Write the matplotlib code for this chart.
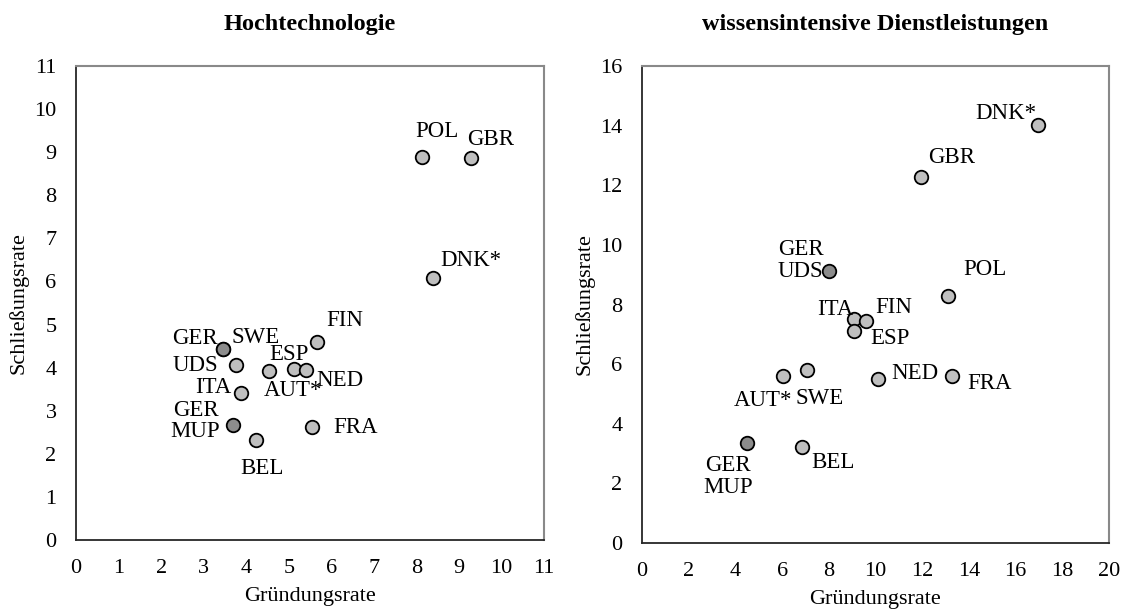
import matplotlib
matplotlib.use("Agg")
import matplotlib.pyplot as plt

plt.rcParams['font.family'] = ['Liberation Serif', 'DejaVu Serif']

# Hochtechnologie
ht_names = ['SWE', 'GER', 'UDS', 'AUT*', 'ESP', 'NED', 'FIN', 'ITA', 'GER\nMUP', 'BEL', 'FRA', 'POL', 'GBR', 'DNK*']
ht_x = [3.45, 3.45, 3.76, 4.54, 5.13, 5.41, 5.67, 3.88, 3.70, 4.23, 5.55, 8.14, 9.29, 8.40]
ht_y = [4.43, 4.43, 4.06, 3.92, 3.97, 3.94, 4.59, 3.41, 2.67, 2.32, 2.62, 8.89, 8.87, 6.08]
ht_dark = [False, True, False, False, False, False, False, False, True, False, False, False, False, False]
ht_off = [(33, 12), (-28, 11), (-41, 0), (24, -19), (-5, 14), (34, -10), (28, 22), (-28, 6),
          (-38, 4), (6, -28), (43, 0), (15, 25), (19, 18), (37, 18)]

# wissensintensive Dienstleistungen
wd_names = ['GER\nUDS', 'POL', 'ITA', 'FIN', 'ESP', 'AUT*', 'SWE', 'NED', 'FRA', 'GER\nMUP', 'BEL', 'GBR', 'DNK*']
wd_x = [8.0, 13.1, 9.08, 9.59, 9.08, 6.04, 7.07, 10.1, 13.28, 4.5, 6.85, 11.95, 16.95]
wd_y = [9.13, 8.29, 7.52, 7.45, 7.11, 5.6, 5.8, 5.5, 5.6, 3.36, 3.22, 12.28, 14.02]
wd_dark = [True, False, False, False, False, False, False, False, False, True, False, False, False]
wd_off = [(-28, 10), (37, 26), (-19, 9), (28, 13), (36, -7), (-20, -24), (13, -28), (37, 6),
          (38, -7), (-19, -34), (31, -15), (31, 19), (-32, 12)]


def panel(ax, names, xs, ys, dark, offs, title, xmax, xstep, ymax, ystep):
    for n, x, y, d, o in zip(names, xs, ys, dark, offs):
        ax.scatter(x, y, s=95, color='#8c8c8c' if d else '#bfbfbf',
                   edgecolor='black', linewidth=1.3, zorder=3 if d else 2)
        ax.annotate(n, (x, y), xytext=o, textcoords='offset pixels',
                    ha='center', va='center', fontsize=16.5, linespacing=1.05)
    ax.set_xlim(0, xmax)
    ax.set_ylim(0, ymax)
    ax.set_xticks(range(0, xmax + 1, xstep))
    ax.set_yticks(range(0, ymax + 1, ystep))
    ax.tick_params(length=0, labelsize=16, pad=14)
    for s in ['top', 'right']:
        ax.spines[s].set_color('#898989')
        ax.spines[s].set_linewidth(1.5)
    for s in ['left', 'bottom']:
        ax.spines[s].set_color('#262626')
        ax.spines[s].set_linewidth(1.3)
    ax.set_xlabel('Gründungsrate', fontsize=16, labelpad=6)
    ax.set_ylabel('Schließungsrate', fontsize=16, labelpad=4)
    ax.set_title(title, fontsize=17.5, fontweight='bold', pad=26)


fig = plt.figure(figsize=(11.25, 6.12), dpi=100)
ax1 = fig.add_axes([0.0676, 0.1176, 0.416, 0.7745])
ax2 = fig.add_axes([0.5707, 0.1127, 0.415, 0.7794])

panel(ax1, ht_names, ht_x, ht_y, ht_dark, ht_off, 'Hochtechnologie', 11, 1, 11, 1)
panel(ax2, wd_names, wd_x, wd_y, wd_dark, wd_off, 'wissensintensive Dienstleistungen', 20, 2, 16, 2)

fig.savefig('out.png', dpi=100)
